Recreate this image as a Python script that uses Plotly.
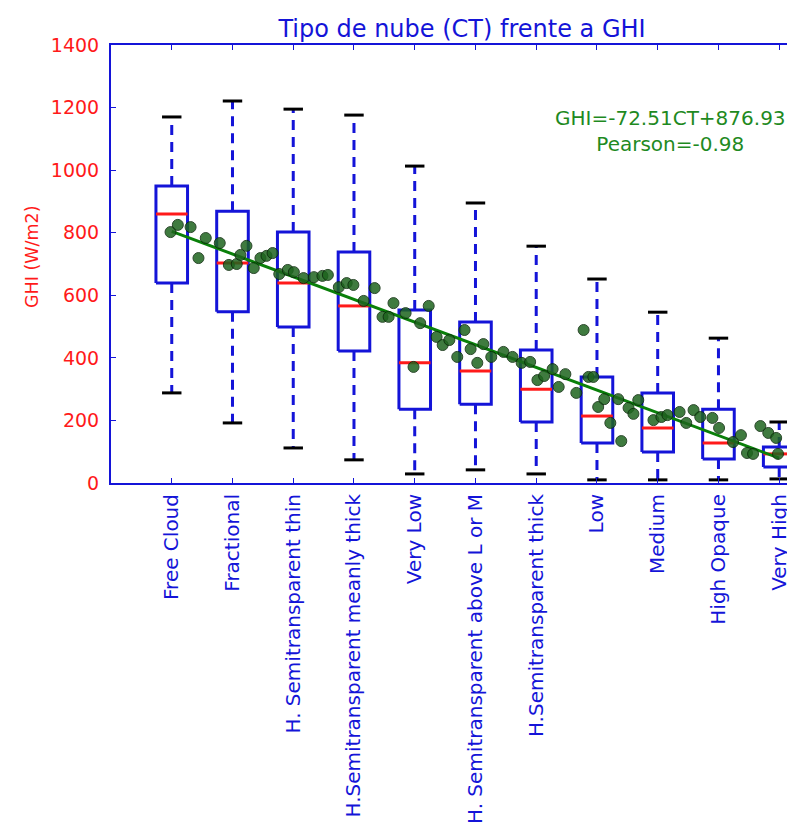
import plotly.graph_objects as go

categories = ["Free Cloud", "Fractional", "H. Semitransparent thin",
              "H.Semitransparent meanly thick", "Very Low",
              "H. Semitransparent above L or M", "H.Semitransparent thick",
              "Low", "Medium", "High Opaque", "Very High"]

# box statistics (W/m2)
upper_cap = [1170, 1221, 1195, 1176, 1013, 895, 757, 652, 546, 463, 195]
q3 = [949, 869, 802, 738, 553, 515, 425, 339, 288, 236, 115]
median = [860, 703, 639, 566, 384, 358, 300, 214, 176, 128, 93]
q1 = [639, 547, 499, 422, 236, 252, 195, 128, 99, 77, 51]
lower_cap = [288, 192, 112, 74, 29, 42, 29, 10, 10, 10, 13]

# scatter of mean values
pts_ct = [0.98, 1.10, 1.31, 1.44, 1.56, 1.79, 1.94, 2.07, 2.13, 2.23,
          2.35, 2.46, 2.56, 2.66, 2.77, 2.91, 3.01, 3.17, 3.34, 3.48,
          3.57, 3.75, 3.88, 3.99, 4.16, 4.34, 4.47, 4.57, 4.65, 4.85,
          4.98, 5.09, 5.23, 5.36, 5.46, 5.57, 5.70, 5.82, 5.92, 6.03,
          6.13, 6.26, 6.46, 6.61, 6.76, 6.90, 7.02, 7.13, 7.27, 7.37,
          7.48, 7.66, 7.78, 7.86, 7.94, 8.02, 8.12, 8.22, 8.35, 8.40,
          8.52, 8.60, 8.68, 8.93, 9.06, 9.16, 9.36, 9.47, 9.59, 9.70,
          9.90, 10.01, 10.24, 10.37, 10.47, 10.57, 10.69, 10.82, 10.95, 10.98]
pts_ghi = [802, 825, 818, 719, 783, 767, 697, 700, 729, 758,
           687, 719, 726, 735, 668, 681, 674, 655, 658, 662,
           665, 626, 639, 633, 582, 623, 531, 531, 575, 543,
           371, 511, 566, 467, 441, 457, 403, 489, 428, 384,
           444, 403, 419, 403, 384, 387, 329, 342, 364, 307,
           348, 288, 489, 339, 339, 243, 268, 192, 268, 134,
           240, 221, 265, 201, 211, 217, 227, 192, 233, 211,
           208, 176, 131, 153, 96, 93, 182, 160, 144, 93]

slope = -72.51
intercept = 876.93
pearson = -0.98

BLUE = "#1414d8"
RED = "#ff1a1a"
GREEN = "#1f8a1f"

pos = list(range(1, len(categories) + 1))
hw = 0.26   # half box width
cw = 0.16   # half cap width

bx, by, mx, my, wx, wy, cx, cy = [], [], [], [], [], [], [], []
for p, lo, a, m, b, hi in zip(pos, lower_cap, q1, median, q3, upper_cap):
    bx += [p - hw, p + hw, p + hw, p - hw, p - hw, None]
    by += [a, a, b, b, a, None]
    mx += [p - hw, p + hw, None]
    my += [m, m, None]
    wx += [p, p, None, p, p, None]
    wy += [b, hi, None, a, lo, None]
    cx += [p - cw, p + cw, None, p - cw, p + cw, None]
    cy += [hi, hi, None, lo, lo, None]

fig = go.Figure()
fig.add_trace(go.Scatter(x=wx, y=wy, mode="lines",
                         line=dict(color=BLUE, width=3, dash="10px,7px")))
fig.add_trace(go.Scatter(x=cx, y=cy, mode="lines", line=dict(color="black", width=3)))
fig.add_trace(go.Scatter(x=bx, y=by, mode="lines", line=dict(color=BLUE, width=3)))
fig.add_trace(go.Scatter(x=mx, y=my, mode="lines", line=dict(color=RED, width=3)))

# regression line
lx = [pos[0], pos[-1]]
fig.add_trace(go.Scatter(x=lx, y=[slope * v + intercept for v in lx], mode="lines",
                         line=dict(color="#0a800a", width=3)))
fig.add_trace(go.Scatter(x=pts_ct, y=pts_ghi, mode="markers",
                         marker=dict(size=11, color="#1e641e", opacity=0.85,
                                     line=dict(color="#0a2a0a", width=1))))

fig.add_annotation(x=9.21, y=1125, xref="x", yref="y",
                   text=f"GHI={slope:.2f}CT+{intercept:.2f}<br>Pearson={pearson:.2f}",
                   showarrow=False, align="center",
                   font=dict(family="DejaVu Sans", size=20, color=GREEN))
fig.add_annotation(x=-0.1155, y=0.516, xref="paper", yref="paper", text="GHI (W/m2)",
                   textangle=-90, showarrow=False, xanchor="center", yanchor="middle",
                   font=dict(family="DejaVu Sans", size=17.5, color=RED))

fig.update_layout(
    width=787, height=815,
    margin=dict(l=103, r=0, t=37, b=340),
    plot_bgcolor="white", paper_bgcolor="white",
    showlegend=False,
    font=dict(family="DejaVu Sans"),
    title=dict(text="Tipo de nube (CT) frente a GHI", x=454 / 787, xref="container",
               xanchor="center", y=1 - 21 / 815, yanchor="middle",
               font=dict(size=24, color=BLUE)),
)
fig.update_xaxes(range=[0, 11.26], tickvals=pos, ticktext=categories, tickangle=-90,
                 ticks="inside", ticklen=5, tickcolor=BLUE, showline=True, linecolor=BLUE,
                 linewidth=2, mirror="ticks", showgrid=False, zeroline=False,
                 tickfont=dict(size=20, color=BLUE), ticklabelstandoff=1)
fig.update_yaxes(range=[0, 1400], dtick=200, ticks="inside", ticklen=5, tickcolor=BLUE,
                 showline=True, linecolor=BLUE, linewidth=2, showgrid=False,
                 zeroline=False, tickfont=dict(size=19, color=RED), ticklabelstandoff=6)

fig.write_html("out.html")
